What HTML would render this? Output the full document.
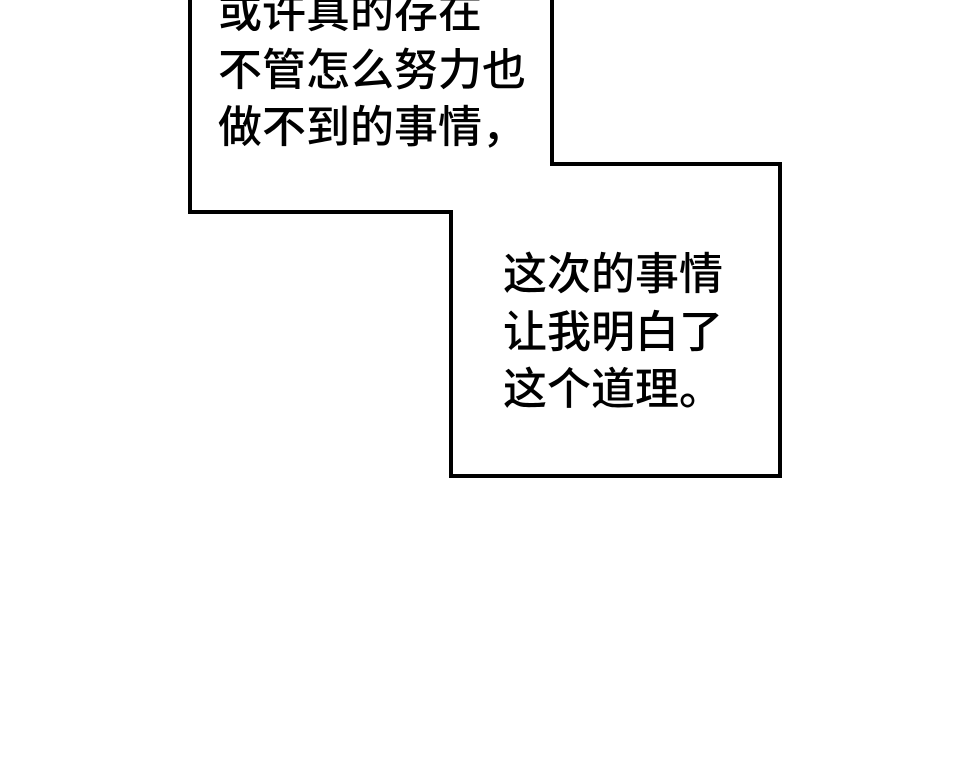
<!DOCTYPE html>
<html><head><meta charset="utf-8"><style>
body{margin:0;width:970px;height:757px;background:#fff;overflow:hidden;position:relative}
.t{position:absolute;font-family:"Liberation Sans","Noto Sans CJK SC",sans-serif;font-size:44px;line-height:57.5px;color:#000;font-weight:500;white-space:nowrap}
svg{position:absolute;left:0;top:0}
</style></head><body>
<svg width="970" height="757"><path d="M190,-10 L190,212 L451,212 L451,476 L780,476 L780,164 L552,164 L552,-10" fill="#fff" stroke="#000" stroke-width="4" stroke-linejoin="miter"/></svg>
<div class="t" style="left:218px;top:-16px">或许真的存在<br>不管怎么努力也<br>做不到的事情，</div>
<div class="t" style="left:503px;top:246px">这次的事情<br>让我明白了<br>这个道理。</div>
</body></html>
